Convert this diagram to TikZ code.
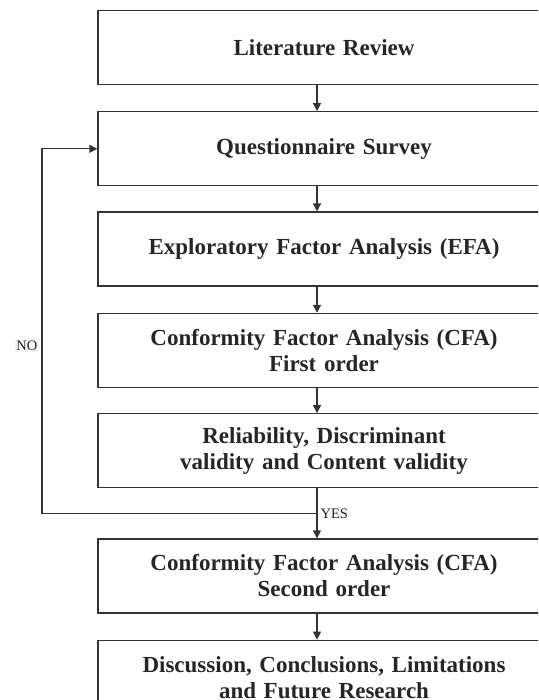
\documentclass[tikz,border=0pt]{standalone}
\usepackage{fontspec}
\setmainfont{Liberation Serif}
\usetikzlibrary{arrows.meta}
\usetikzlibrary{positioning}
\usetikzlibrary{calc}

\begin{document}
\begin{tikzpicture}[x=1pt, y=1pt]
    \tikzset{Process/.style={rectangle,  draw=black!80, line width=1.3pt, text=black!85, text centered, text width=430pt, minimum width=452pt, minimum height=74pt, inner sep=0pt, font=\fontsize{23}{26}\selectfont\bfseries}};
    \tikzset{Flow/.style={draw=black!80, line width=1.3pt, -{Triangle[length=8pt, width=8pt]}}};
    \tikzset{Tag/.style={font=\fontsize{14.5}{16}\selectfont, text=black!85, fill=black!4, inner sep=1pt}};

    \clip (0,0) rectangle (538,-700);

    \node[Process](a)at (324,-47.5){Literature Review};
    \node[Process, below=26pt of a](b){Questionnaire Survey};
    \node[Process, below=25pt of b](c){Exploratory Factor Analysis (EFA)};
    \node[Process, below=26pt of c](d){Conformity Factor Analysis (CFA)\\First order};
    \node[Process, below=25pt of d](e){Reliability, Discriminant\\validity and Content validity};
    \node[Process, below=50pt of e](f){Conformity Factor Analysis (CFA)\\Second order};
    \node[Process, below=26pt of f](g){Discussion, Conclusions, Limitations\\and Future Research};
    \coordinate (j) at ($([xshift=-7pt]e.south)!0.5!([xshift=-7pt]f.north)$);

    \draw[Flow] ([xshift=-7pt]a.south) --([xshift=-7pt]b.north);
    \draw[Flow] ([xshift=-7pt]b.south) --([xshift=-7pt]c.north);
    \draw[Flow] ([xshift=-7pt]c.south) --([xshift=-7pt]d.north);
    \draw[Flow] ([xshift=-7pt]d.south) --([xshift=-7pt]e.north);
    \draw[Flow] ([xshift=-7pt]e.south) --([xshift=-7pt]f.north) node[Tag, right=2pt of j] {YES};
    \draw[Flow] ([xshift=-7pt]f.south) --([xshift=-7pt]g.north);

    \draw[Flow] (j) --++(-275, 0) |- node[Tag, pos=0.23, left=3pt] {NO} (b.west);
  \end{tikzpicture}
\end{document}
